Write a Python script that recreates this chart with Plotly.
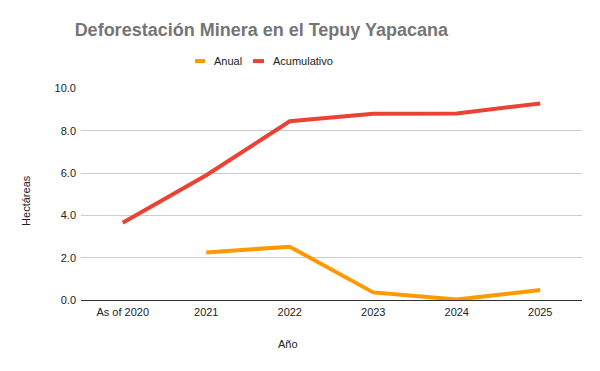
import plotly.graph_objects as go

categories = ["As of 2020", "2021", "2022", "2023", "2024", "2025"]
anual = [None, 2.25, 2.52, 0.36, 0.02, 0.47]
acumulativo = [3.65, 5.9, 8.45, 8.8, 8.82, 9.29]
y_ticks = [0, 2, 4, 6, 8, 10]
series_names = ["Anual", "Acumulativo"]
series_colors = ["#FF9900", "#EA4335"]

FONT = "Liberation Sans, Arial, sans-serif"
TXT = 11

fig = go.Figure()
for name, vals, col in zip(series_names, [anual, acumulativo], series_colors):
    fig.add_trace(go.Scatter(x=categories, y=vals, mode="lines", name=name,
                             line=dict(color=col, width=4), showlegend=False))

# custom legend (small swatches like the reference)
legend_pos = [(0.2275, 0.2475, 0.2615), (0.3433, 0.3653, 0.3792)]
shapes = []
annotations = []
for (x0, x1, xt), name, col in zip(legend_pos, series_names, series_colors):
    shapes.append(dict(type="line", xref="paper", yref="paper", x0=x0, x1=x1,
                       y0=1.127, y1=1.127, line=dict(color=col, width=4)))
    annotations.append(dict(text=name, xref="paper", yref="paper", x=xt, y=1.127,
                            xanchor="left", yanchor="middle", showarrow=False,
                            font=dict(size=TXT, color="#222222", family=FONT)))

annotations.append(dict(text="Año", xref="paper", yref="paper", x=0.413, y=-0.2075,
                        xanchor="center", yanchor="middle", showarrow=False,
                        font=dict(size=TXT, color="#222222", family=FONT)))
annotations.append(dict(text="Hectáreas", xref="paper", yref="paper", x=-0.11, y=0.4717,
                        xanchor="center", yanchor="middle", showarrow=False, textangle=-90,
                        font=dict(size=TXT, color="#222222", family=FONT)))

fig.update_layout(
    width=592, height=363,
    margin=dict(l=73, r=18, t=80, b=71),
    paper_bgcolor="white", plot_bgcolor="white",
    font=dict(family=FONT, size=TXT, color="#222222"),
    title=dict(text="<b>Deforestación Minera en el Tepuy Yapacana</b>",
               xref="container", x=0.428, xanchor="center",
               yref="container", y=0.939, yanchor="middle",
               font=dict(size=18, color="#757575", family=FONT)),
    showlegend=False,
    shapes=shapes,
    annotations=annotations,
    xaxis=dict(type="category", range=[-0.5, 5.5], showgrid=False, showline=False,
               ticks="", tickfont=dict(size=TXT), ticklabelstandoff=4),
    yaxis=dict(range=[0, 10.02], tickvals=y_ticks, tickformat=".1f",
               showgrid=True, gridcolor="#CCCCCC",
               zeroline=True, zerolinecolor="#333333", zerolinewidth=1,
               ticks="", tickfont=dict(size=TXT), ticklabelstandoff=4),
)

fig.write_html("out.html")
